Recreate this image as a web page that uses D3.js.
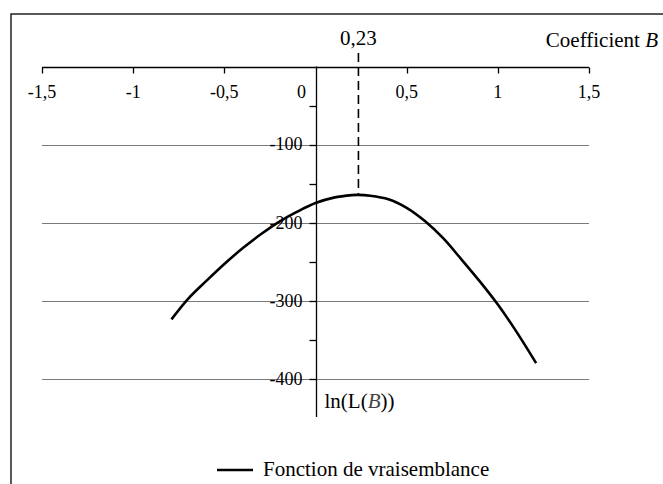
<!DOCTYPE html>
<html>
<head>
<meta charset="utf-8">
<script src="https://cdn.jsdelivr.net/npm/d3@7"></script>
<style>
  html, body { margin: 0; padding: 0; background: #fff; }
  svg { display: block; }
</style>
</head>
<body>
<svg id="chart" width="663" height="484" font-family="'Liberation Serif', Tinos, 'Times New Roman', Times, 'DejaVu Serif', serif"></svg>
<script>
// ---- data ----
const coefB = [-0.79, -0.7, -0.6, -0.5, -0.4, -0.3, -0.2, -0.1, 0.0, 0.1, 0.2, 0.23, 0.3, 0.4, 0.5, 0.6, 0.7, 0.8, 0.9, 1.0, 1.1, 1.21];
const logLik = [-324, -298, -275, -253, -233, -215, -199, -186, -175, -168, -164.8, -164.5, -165.5, -170, -181, -198, -220, -247, -275, -305, -339, -380];
const xTicks = [-1.5, -1, -0.5, 0, 0.5, 1, 1.5];
const xTickLabels = ["-1,5", "-1", "-0,5", "0", "0,5", "1", "1,5"];
const yMajorTicks = [-100, -200, -300, -400];
const yMajorLabels = ["-100", "-200", "-300", "-400"];
const yMinorTicks = [-50, -150, -250, -350];
const peakB = 0.23;
const peakLabel = "0,23";
const xTitle = "Coefficient ";
const xTitleVar = "B";
const legendLabel = "Fonction de vraisemblance";

// ---- layout ----
const svg = d3.select("#chart");
const x = d3.scaleLinear().domain([-1.5, 1.5]).range([42, 589]);
const y = d3.scaleLinear().domain([0, -400]).range([66.5, 378.7]);
const x0 = x(0);

// frame (clipped on right/bottom like the reference)
svg.append("rect").attr("x", 11).attr("y", 14).attr("width", 700).attr("height", 520)
  .attr("fill", "none").attr("stroke", "#000").attr("stroke-width", 1.3);

// gridlines
svg.append("g").selectAll("line").data(yMajorTicks).join("line")
  .attr("x1", x(-1.5)).attr("x2", x(1.5))
  .attr("y1", d => Math.round(y(d)) + 0.5).attr("y2", d => Math.round(y(d)) + 0.5)
  .attr("stroke", "#7a7a7a").attr("stroke-width", 1);

// y tick labels (under the curve)
svg.append("g").selectAll("text").data(yMajorTicks).join("text")
  .attr("x", x0 - 13).attr("y", d => y(d)).attr("dy", "0.33em")
  .attr("text-anchor", "end").attr("font-size", 18)
  .text((d, i) => yMajorLabels[i]);

// x axis (top), ticks pointing down
const xAxisG = svg.append("g").attr("transform", `translate(0,${Math.round(y(0)) + 0.5})`);
xAxisG.append("line").attr("x1", x(-1.5)).attr("x2", x(1.5)).attr("stroke", "#000").attr("stroke-width", 1.3);
xAxisG.selectAll("line.tick").data(xTicks.filter(d => d !== 0)).join("line")
  .attr("class", "tick")
  .attr("x1", d => Math.round(x(d)) + 0.5).attr("x2", d => Math.round(x(d)) + 0.5)
  .attr("y1", 0).attr("y2", 6).attr("stroke", "#000").attr("stroke-width", 1.3);
xAxisG.selectAll("text").data(xTicks).join("text")
  .attr("x", d => d === 0 ? x(d) - 14 : x(d))
  .attr("y", 30)
  .attr("text-anchor", "middle").attr("font-size", 18)
  .text((d, i) => xTickLabels[i]);

// y axis (vertical through 0), ticks pointing left
const yAxisG = svg.append("g").attr("transform", `translate(${Math.round(x0) + 0.5},0)`);
yAxisG.append("line").attr("y1", y(0)).attr("y2", 417).attr("stroke", "#000").attr("stroke-width", 1.3);
yAxisG.selectAll("line.tick").data(yMajorTicks.concat(yMinorTicks)).join("line")
  .attr("class", "tick")
  .attr("x1", -7).attr("x2", 0)
  .attr("y1", d => Math.round(y(d)) + 0.5).attr("y2", d => Math.round(y(d)) + 0.5)
  .attr("stroke", "#000").attr("stroke-width", 1.3);

// x title
const xt = svg.append("text").attr("x", 658).attr("y", 47).attr("text-anchor", "end").attr("font-size", 21);
xt.append("tspan").text(xTitle);
xt.append("tspan").attr("font-style", "italic").text(xTitleVar);

// y title
const yt = svg.append("text").attr("x", x0 + 9).attr("y", 408).attr("font-size", 21);
yt.append("tspan").text("ln(L(");
yt.append("tspan").attr("font-style", "italic").attr("fill", "#444").text("B");
yt.append("tspan").text("))");

// curve
const pts = coefB.map((b, i) => [b, logLik[i]]);
const peakVal = logLik[coefB.indexOf(peakB)];

// dashed line at maximum
svg.append("line")
  .attr("x1", x(peakB) + 1).attr("x2", x(peakB) + 1)
  .attr("y1", 53).attr("y2", y(peakVal))
  .attr("stroke", "#000").attr("stroke-width", 1.6).attr("stroke-dasharray", "9,5");
svg.append("text").attr("x", x(peakB) + 1).attr("y", 45).attr("text-anchor", "middle")
  .attr("font-size", 21).text(peakLabel);

const line = d3.line().x(d => x(d[0])).y(d => y(d[1])).curve(d3.curveCatmullRom.alpha(0.5));
svg.append("path").datum(pts).attr("d", line)
  .attr("fill", "none").attr("stroke", "#000").attr("stroke-width", 2.6);

// legend
svg.append("line").attr("x1", 217).attr("x2", 253).attr("y1", 470).attr("y2", 470)
  .attr("stroke", "#000").attr("stroke-width", 2.6);
svg.append("text").attr("x", 263).attr("y", 476).attr("font-size", 21).text(legendLabel);
</script>
</body>
</html>
